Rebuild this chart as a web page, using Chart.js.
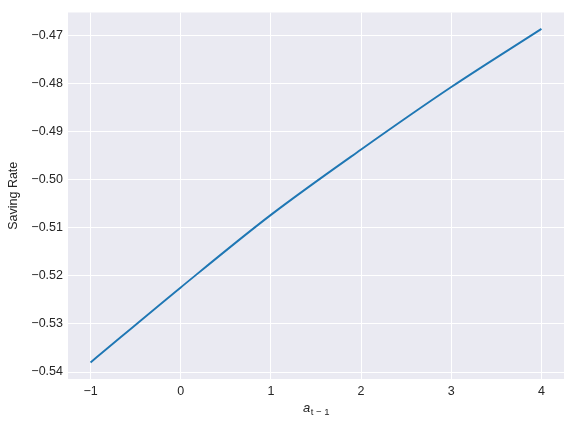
<!DOCTYPE html>
<html>
<head>
<meta charset="utf-8">
<script src="https://cdn.jsdelivr.net/npm/chart.js@4/dist/chart.umd.min.js"></script>
<style>
  html, body { margin: 0; padding: 0; background: #ffffff; }
  #wrap { width: 574px; height: 426px; position: relative; }
</style>
</head>
<body>
<div id="wrap"><canvas id="c" width="574" height="426"></canvas></div>
<script>
// Data
const assetsPrev = [-1, 0, 1, 2, 3, 4];
const savingRate = [-0.5380, -0.5224, -0.5073, -0.4937, -0.4807, -0.4686];
const xTickValues = [-1, 0, 1, 2, 3, 4];
const yTickValues = [-0.54, -0.53, -0.52, -0.51, -0.50, -0.49, -0.48, -0.47];
const yAxisTitle = 'Saving Rate';
const xAxisBase = 'a';
const xAxisSub = 't \u2212 1';

const FONT = '"Liberation Sans", Arial, sans-serif';
const TICK_COLOR = '#262626';

const bgPlugin = {
  id: 'areaBg',
  beforeDraw(chart) {
    const { ctx, chartArea: a } = chart;
    ctx.save();
    ctx.fillStyle = '#EAEAF2';
    ctx.fillRect(a.left, a.top, a.right - a.left, a.bottom - a.top);
    ctx.restore();
  }
};

const xTitlePlugin = {
  id: 'xTitle',
  afterDraw(chart) {
    const { ctx, chartArea: a } = chart;
    const cx = (a.left + a.right) / 2;
    const baseY = 412;
    ctx.save();
    ctx.fillStyle = TICK_COLOR;
    ctx.textBaseline = 'alphabetic';
    ctx.font = 'italic 13px ' + FONT;
    const wA = ctx.measureText(xAxisBase).width;
    ctx.font = '9.5px ' + FONT;
    const wS = ctx.measureText(xAxisSub).width;
    const start = cx - (wA + wS) / 2;
    ctx.font = 'italic 13px ' + FONT;
    ctx.fillText(xAxisBase, start, baseY);
    ctx.font = '9.5px ' + FONT;
    ctx.fillText(xAxisSub, start + wA + 0.5, baseY + 3);
    ctx.restore();
  }
};

const fmt = v => {
  const s = Number(v).toFixed(2);
  return s.replace('-', '\u2212');
};

new Chart(document.getElementById('c'), {
  type: 'line',
  data: {
    datasets: [{
      data: assetsPrev.map((x, i) => ({ x: x, y: savingRate[i] })),
      borderColor: '#1f77b4',
      borderWidth: 1.9,
      pointRadius: 0,
      fill: false,
      cubicInterpolationMode: 'monotone'
    }]
  },
  options: {
    responsive: false,
    animation: false,
    devicePixelRatio: 1,
    layout: { padding: { left: 0, right: 10, top: 10, bottom: 0 } },
    plugins: { legend: { display: false }, tooltip: { enabled: false } },
    scales: {
      x: {
        type: 'linear',
        min: -1.25,
        max: 4.25,
        afterBuildTicks(scale) { scale.ticks = xTickValues.map(v => ({ value: v })); },
        afterFit(scale) { scale.height = 47; },
        grid: { color: '#ffffff', lineWidth: 1, drawTicks: false },
        border: { display: false },
        ticks: {
          padding: 5,
          color: TICK_COLOR,
          font: { family: FONT, size: 12.5 },
          callback: v => String(v).replace('-', '\u2212'),
          maxRotation: 0
        }
      },
      y: {
        type: 'linear',
        min: -0.54145,
        max: -0.46519,
        afterBuildTicks(scale) { scale.ticks = yTickValues.map(v => ({ value: v })); },
        afterFit(scale) { scale.width = 68; },
        grid: { color: '#ffffff', lineWidth: 1, drawTicks: false },
        border: { display: false },
        title: {
          display: true,
          text: yAxisTitle,
          color: TICK_COLOR,
          font: { family: FONT, size: 12.5 },
          padding: { top: 6, bottom: 0 }
        },
        ticks: {
          padding: 5,
          color: TICK_COLOR,
          font: { family: FONT, size: 12.5 },
          callback: v => fmt(v)
        }
      }
    }
  },
  plugins: [bgPlugin, xTitlePlugin]
});
</script>
</body>
</html>
